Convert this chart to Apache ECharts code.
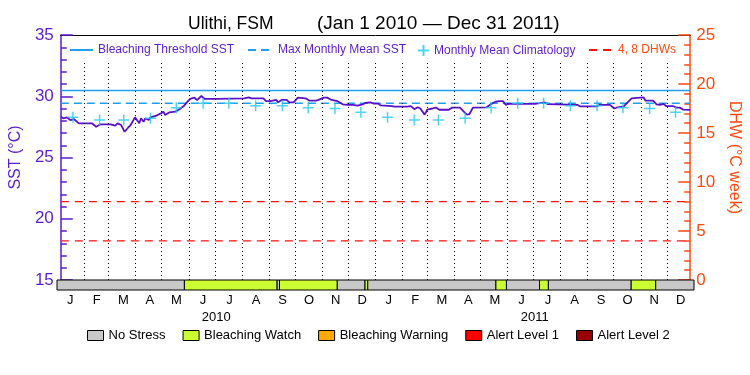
<!DOCTYPE html>
<html>
<head>
<meta charset="utf-8">
<script src="https://cdn.jsdelivr.net/npm/echarts@6/dist/echarts.min.js"></script>
<style>
  html, body { margin: 0; padding: 0; background: #fff; }
  #chart { width: 750px; height: 375px; }
</style>
</head>
<body>
<div id="chart"></div>
<script>
// daily SST, as days since Jan 1 2010
const sstDay = [0,3,7,11,15,21,36,41,46,58,
  63,66,70,72,74,78,81,86,88,91,
  93,96,98,102,104,110,116,119,121,126,
  133,138,143,147,150,155,158,163,167,181,
  213,218,221,235,238,243,245,250,252,256,
  262,265,270,275,284,288,296,299,305,309,
  314,321,327,332,339,344,350,353,359,363,
  368,371,384,387,402,406,410,414,417,422,
  425,431,435,439,450,454,463,468,471,474,
  478,494,498,504,509,513,516,520,531,550,
  551,561,565,567,599,602,622,625,637,642,
  646,653,656,662,664,676,678,687,691,695,
  699,702,710,714,718,722,730];
const sstVal = [28.33,28.2,28.28,28.06,28.14,27.79,27.79,27.51,27.71,27.71,
  27.6,27.79,27.65,27.51,27.1,27.43,27.65,28.28,28.28,27.79,
  28.2,27.92,28.2,28.06,28.28,28.39,28.6,28.74,28.47,28.69,
  28.74,28.96,29.23,29.56,29.78,29.88,29.69,30.02,29.78,29.78,
  29.83,29.9,29.83,29.83,29.61,29.61,29.7,29.7,29.5,29.7,
  29.7,29.5,29.5,29.89,29.83,29.65,29.65,29.7,29.89,29.89,
  29.7,29.6,29.34,29.3,29.3,29.23,29.34,29.45,29.5,29.4,
  29.4,29.25,29.2,29.15,29.15,29.2,28.95,29.1,29.0,28.5,
  28.9,29.0,29.08,28.9,28.9,29.07,29.07,28.7,28.5,28.55,
  29.07,29.1,29.3,29.55,29.6,29.6,29.3,29.4,29.37,29.37,
  29.5,29.5,29.35,29.3,29.3,29.18,29.18,29.3,29.3,29.0,
  29.1,29.18,29.4,29.83,29.9,29.9,29.65,29.65,29.34,29.3,
  29.38,29.2,29.2,29.07,29.07,28.9,28.88];

const climMonthly = [28.28,28.06,28.06,28.2,29.07,29.42,29.42,29.23,29.23,29.07,29.0,28.7];
const years = [2010, 2011];
const mmm = 29.43;
const bleachThreshold = 30.47;
const dhwLevels = [4, 8];

const stressStart = [0,146,252,255,321,353,356,503,515,553,563,658,686];
const stressEnd   = [146,252,255,321,353,356,503,515,553,563,658,686,730];
const stressLevel = [0,1,0,1,0,1,0,1,0,1,0,1,0];
const stressNames = ['No Stress','Bleaching Watch','Bleaching Warning','Alert Level 1','Alert Level 2'];
const stressColors = ['#c8c8c8','#ccff33','#ffaa00','#ff0000','#990000'];

const monthLetters = ['J','F','M','A','M','J','J','A','S','O','N','D'];

const DAY = 86400000;
const t0 = Date.UTC(2010, 0, 1);
const t1 = Date.UTC(2012, 0, 1);
const toTime = d => t0 + d * DAY;

const PURPLE = '#5a1ecc';
const ORANGE = '#ff4a10';
const DHW_RED = '#ff1010';
const BLUE = '#1ea0f0';
const FONT = 'Liberation Sans';

const sstData = sstDay.map((d, i) => [toTime(d), sstVal[i]]);
const climData = [];
years.forEach(y => climMonthly.forEach((v, m) => climData.push([Date.UTC(y, m, 15), v])));
const monthStarts = [];
years.forEach(y => { for (let m = 0; m < 12; m++) { const t = Date.UTC(y, m, 1); if (t > t0) monthStarts.push(t); } });
const monthCats = years.flatMap(() => monthLetters);

const stressSeries = stressNames.map((name, lvl) => ({
  name: name,
  type: 'custom',
  xAxisIndex: 1,
  yAxisIndex: 2,
  itemStyle: { color: stressColors[lvl] },
  encode: { x: [0, 1] },
  data: stressLevel.map((l, i) => l === lvl ? [toTime(stressStart[i]), toTime(stressEnd[i])] : null).filter(Boolean),
  renderItem: function (params, api) {
    const a = api.coord([api.value(0), 0]);
    const b = api.coord([api.value(1), 1]);
    return {
      type: 'rect',
      shape: { x: a[0], y: b[1], width: b[0] - a[0], height: a[1] - b[1] },
      style: { fill: api.visual('color'), stroke: '#000', lineWidth: 1 }
    };
  }
}));

// one dashed line per DHW level, sharing one legend entry
const dhwSeries = dhwLevels.map(v => ({
  name: '4, 8 DHWs', type: 'line', xAxisIndex: 0, yAxisIndex: 1, symbol: 'none', silent: true,
  color: DHW_RED, data: [[t0, v], [t1, v]],
  lineStyle: { color: DHW_RED, type: [8, 6], width: 1.2 }
}));

// line-only legend entries: hide the symbol, keep the series line
const lineLegend = (name, left, width, color) => ({
  data: [name], left: left, top: 44, padding: 0, itemWidth: width, itemHeight: 12,
  itemStyle: { opacity: 0 },
  textStyle: { color: color, fontSize: 12 }
});

const chart = echarts.init(document.getElementById('chart'));
chart.setOption({
  animation: false,
  textStyle: { fontFamily: FONT },
  title: [
    { text: 'Ulithi, FSM', left: 183, top: 10, textStyle: { fontSize: 17.5, fontWeight: 'normal', color: '#000', fontFamily: FONT } },
    { text: '(Jan 1 2010 \u2014 Dec 31 2011)', left: 312, top: 9, textStyle: { fontSize: 19, fontWeight: 'normal', color: '#000', fontFamily: FONT } }
  ],
  legend: [
    lineLegend('Bleaching Threshold SST', 69, 23, PURPLE),
    lineLegend('Max Monthly Mean SST', 247, 25, PURPLE),
    { data: ['Monthly Mean Climatology'], left: 417, top: 44, padding: 0, itemWidth: 11, itemHeight: 11, textStyle: { color: PURPLE, fontSize: 12 } },
    lineLegend('4, 8 DHWs', 588, 24, ORANGE),
    { data: stressNames, left: 87, top: 329, padding: 0, icon: 'rect', itemWidth: 16, itemHeight: 10, itemGap: 17,
      itemStyle: { borderColor: '#000', borderWidth: 1 }, textStyle: { color: '#000', fontSize: 13 } }
  ],
  grid: [
    { left: 57, right: 56, top: 35, height: 245 },
    { left: 57, right: 56, top: 280, height: 10 },
    { left: 57, right: 56, top: 63, height: 217 }
  ],
  xAxis: [
    { type: 'time', gridIndex: 0, min: t0, max: t1, position: 'top',
      axisLine: { show: true, onZero: false, lineStyle: { color: '#000', width: 1 } },
      axisTick: { show: false }, axisLabel: { show: false }, splitLine: { show: false } },
    { type: 'time', gridIndex: 1, min: t0, max: t1, show: false },
    { type: 'category', gridIndex: 1, data: monthCats, position: 'bottom', boundaryGap: true,
      axisLine: { show: false }, axisTick: { show: false },
      axisLabel: { interval: 0, margin: 4, fontSize: 13, color: '#000' } },
    { type: 'category', gridIndex: 1, data: years.map(String), position: 'bottom', offset: 17, boundaryGap: true,
      axisLine: { show: false }, axisTick: { show: false },
      axisLabel: { interval: 0, margin: 4, fontSize: 13, color: '#000' } },
    { type: 'time', gridIndex: 2, min: t0, max: t1, show: false }
  ],
  yAxis: [
    { type: 'value', gridIndex: 0, min: 15, max: 35, interval: 5, position: 'left',
      name: 'SST (\u00b0C)', nameLocation: 'middle', nameGap: 34, nameRotate: 90,
      nameTextStyle: { color: PURPLE, fontSize: 16 },
      axisLine: { show: true, lineStyle: { color: PURPLE, width: 1.5 } },
      axisTick: { show: true, inside: true, length: 12, lineStyle: { color: PURPLE, width: 1.5 } },
      minorTick: { show: true, splitNumber: 5, length: 6, lineStyle: { color: PURPLE, width: 1.5 } },
      axisLabel: { color: PURPLE, fontSize: 17, margin: 7 },
      splitLine: { show: false } },
    { type: 'value', gridIndex: 0, min: 0, max: 25, interval: 5, position: 'right',
      name: 'DHW (\u00b0C week)', nameLocation: 'middle', nameGap: 31, nameRotate: -90,
      nameTextStyle: { color: ORANGE, fontSize: 16 },
      axisLine: { show: true, lineStyle: { color: ORANGE, width: 1.5 } },
      axisTick: { show: true, inside: true, length: 12, lineStyle: { color: ORANGE, width: 1.5 } },
      minorTick: { show: true, splitNumber: 5, length: 6, lineStyle: { color: ORANGE, width: 1.5 } },
      axisLabel: { color: ORANGE, fontSize: 17, margin: 6 },
      splitLine: { show: false } },
    { type: 'value', gridIndex: 1, min: 0, max: 1, show: false },
    { type: 'value', gridIndex: 2, min: 0, max: 1, show: false }
  ],
  series: [
    { name: 'month lines', type: 'line', xAxisIndex: 4, yAxisIndex: 3, symbol: 'none', silent: true,
      data: [[t0, 0]], lineStyle: { opacity: 0 },
      markLine: { silent: true, symbol: ['none', 'none'], label: { show: false },
        lineStyle: { color: '#000', type: [1, 3], width: 1 },
        data: monthStarts.map(t => ({ xAxis: t })) } }
  ].concat(dhwSeries, [
    { name: 'Max Monthly Mean SST', type: 'line', xAxisIndex: 0, yAxisIndex: 0, symbol: 'none', silent: true,
      color: BLUE, data: [[t0, mmm], [t1, mmm]],
      lineStyle: { color: BLUE, type: [8, 5], width: 1.5 } },
    { name: 'Bleaching Threshold SST', type: 'line', xAxisIndex: 0, yAxisIndex: 0, symbol: 'none', silent: true,
      color: BLUE, data: [[t0, bleachThreshold], [t1, bleachThreshold]],
      lineStyle: { color: BLUE, width: 1.5 } },
    { name: 'SST', type: 'line', xAxisIndex: 0, yAxisIndex: 0, symbol: 'none', silent: true,
      data: sstData, lineStyle: { color: '#5a10c8', width: 1.8 }, z: 4 },
    { name: 'Monthly Mean Climatology', type: 'scatter', xAxisIndex: 0, yAxisIndex: 0, silent: true,
      symbol: 'path://M0,5L10,5M5,0L5,10', symbolSize: 11,
      itemStyle: { color: 'rgba(0,0,0,0)', borderColor: '#22c8f0', borderWidth: 1.5 },
      data: climData, z: 5 }
  ], stressSeries)
});
</script>
</body>
</html>
